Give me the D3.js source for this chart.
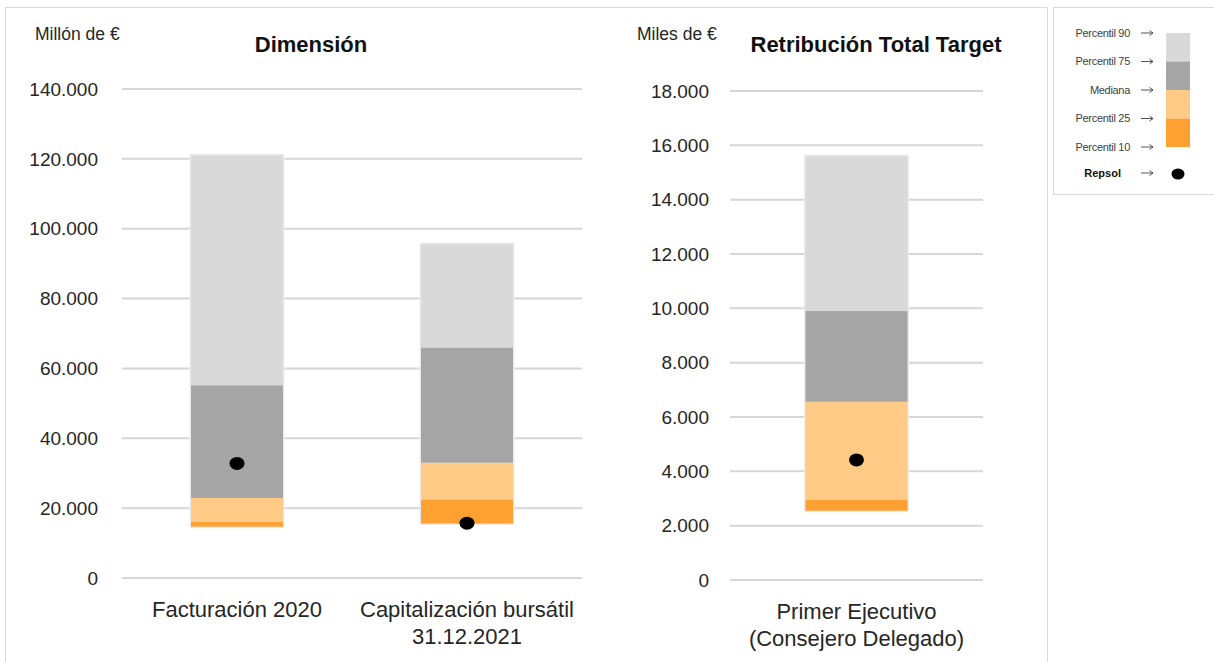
<!DOCTYPE html>
<html>
<head>
<meta charset="utf-8">
<script src="https://cdn.jsdelivr.net/npm/d3@7"></script>
<style>
  body { margin: 0; background: #fff; }
  svg { font-family: "Liberation Sans", Arial, sans-serif; }
</style>
</head>
<body>
<svg id="chart" width="1214" height="662"></svg>
<script>
// Datos: Dimensión (millón de €)
const dimCategorias = [["Facturación 2020"], ["Capitalización bursátil", "31.12.2021"]];
const dimP10 = [14700, 15600];
const dimP25 = [16100, 22500];
const dimMediana = [22900, 33000];
const dimP75 = [55200, 66000];
const dimP90 = [121000, 95600];
const dimRepsol = [32800, 15700];
const dimTicks = [0, 20000, 40000, 60000, 80000, 100000, 120000, 140000];

// Datos: Retribución Total Target (miles de €)
const rttCategorias = [["Primer Ejecutivo", "(Consejero Delegado)"]];
const rttP10 = [2550];
const rttP25 = [2950];
const rttMediana = [6560];
const rttP75 = [9900];
const rttP90 = [15600];
const rttRepsol = [4420];
const rttTicks = [0, 2000, 4000, 6000, 8000, 10000, 12000, 14000, 16000, 18000];

const legendLabels = ["Percentil 90", "Percentil 75", "Mediana", "Percentil 25", "Percentil 10"];

const COLORS = {
    p25: "#ffa033",     // P10 -> P25
    med: "#ffc986",     // P25 -> Mediana
    p75: "#a5a5a5",     // Mediana -> P75
    p90: "#d9d9d9"      // P75 -> P90
};

const locale = d3.formatLocale({ decimal: ",", thousands: ".", grouping: [3], currency: ["", "€"] });
const fmt = locale.format(",");

const svg = d3.select("#chart");

// marcos
svg.append("path")
    .attr("d", "M5.5,662 V7.5 H1047.5 V662")
    .attr("fill", "none").attr("stroke", "#d9d9d9").attr("stroke-width", 1);
svg.append("rect")
    .attr("x", 1053.5).attr("y", 7.5).attr("width", 170).attr("height", 187)
    .attr("fill", "none").attr("stroke", "#d9d9d9").attr("stroke-width", 1);

function crearPanel(cfg) {
    const g = svg.append("g");
    const y = d3.scaleLinear().domain(cfg.domain).range([cfg.y0, cfg.y1]);
    const x = d3.scaleBand()
        .domain(cfg.categorias.map((d, i) => i))
        .range([cfg.x0, cfg.x1])
        .paddingInner(cfg.padIn)
        .paddingOuter(cfg.padOut);

    // grid
    g.append("g").selectAll("line")
        .data(cfg.ticks)
        .join("line")
        .attr("x1", cfg.x0).attr("x2", cfg.x1)
        .attr("y1", d => y(d)).attr("y2", d => y(d))
        .attr("stroke", "#d6d6d6").attr("stroke-width", 2);

    // eje y
    g.append("g").selectAll("text")
        .data(cfg.ticks)
        .join("text")
        .attr("x", cfg.labelX)
        .attr("y", d => y(d))
        .attr("dy", "0.35em")
        .attr("text-anchor", "end")
        .attr("font-size", 19)
        .attr("fill", "#262626")
        .text(d => fmt(d));

    // barras apiladas
    const segs = [];
    cfg.categorias.forEach((c, i) => {
        segs.push({ i, lo: cfg.p10[i], hi: cfg.p25[i], c: COLORS.p25 });
        segs.push({ i, lo: cfg.p25[i], hi: cfg.med[i], c: COLORS.med });
        segs.push({ i, lo: cfg.med[i], hi: cfg.p75[i], c: COLORS.p75 });
        segs.push({ i, lo: cfg.p75[i], hi: cfg.p90[i], c: COLORS.p90 });
    });
    g.append("g").selectAll("rect.outline")
        .data(cfg.categorias.map((c, i) => i))
        .join("rect")
        .attr("x", i => x(i) - 1.5)
        .attr("y", i => y(cfg.p90[i]) - 1.5)
        .attr("width", x.bandwidth() + 3)
        .attr("height", i => y(cfg.p10[i]) - y(cfg.p90[i]) + 3)
        .attr("fill", "#ebebeb");
    g.append("g").selectAll("rect.seg")
        .data(segs)
        .join("rect")
        .attr("x", d => x(d.i))
        .attr("y", d => y(d.hi))
        .attr("width", x.bandwidth())
        .attr("height", d => y(d.lo) - y(d.hi))
        .attr("fill", d => d.c);

    // Repsol
    g.append("g").selectAll("ellipse")
        .data(cfg.repsol)
        .join("ellipse")
        .attr("cx", (d, i) => x(i) + x.bandwidth() / 2)
        .attr("cy", d => y(d))
        .attr("rx", 7.5).attr("ry", 6.5)
        .attr("fill", "#000");

    // categorías
    g.append("g").selectAll("text")
        .data(cfg.categorias)
        .join("text")
        .attr("x", (d, i) => x(i) + x.bandwidth() / 2)
        .attr("y", cfg.catY)
        .attr("text-anchor", "middle")
        .attr("font-size", 22)
        .attr("fill", "#262626")
        .each(function (lines) {
            d3.select(this).selectAll("tspan")
                .data(lines)
                .join("tspan")
                .attr("x", d3.select(this).attr("x"))
                .attr("dy", (l, k) => k === 0 ? 0 : 27)
                .text(l => l);
        });

    // títulos
    g.append("text")
        .attr("x", cfg.unitX).attr("y", 40)
        .attr("font-size", 17.5)
        .attr("fill", "#262626")
        .text(cfg.unidad);
    g.append("text")
        .attr("x", cfg.titleX).attr("y", 52)
        .attr("text-anchor", "middle")
        .attr("font-size", 22)
        .attr("font-weight", "bold")
        .attr("fill", "#111")
        .text(cfg.titulo);
}

crearPanel({
    categorias: dimCategorias, p10: dimP10, p25: dimP25, med: dimMediana, p75: dimP75, p90: dimP90,
    repsol: dimRepsol, ticks: dimTicks, domain: [0, 140000],
    y0: 578, y1: 89, x0: 122, x1: 582, padIn: 0.6, padOut: 0.3,
    labelX: 98, catY: 617, unitX: 35, unidad: "Millón de €", titleX: 311, titulo: "Dimensión"
});

crearPanel({
    categorias: rttCategorias, p10: rttP10, p25: rttP25, med: rttMediana, p75: rttP75, p90: rttP90,
    repsol: rttRepsol, ticks: rttTicks, domain: [0, 18000],
    y0: 580, y1: 91, x0: 730, x1: 983, padIn: 0.425, padOut: 0.425,
    labelX: 709, catY: 619, unitX: 637, unidad: "Miles de €", titleX: 876, titulo: "Retribución Total Target"
});

// Leyenda
const legY = d3.scalePoint().domain(legendLabels).range([33, 147]);
const lg = svg.append("g");
lg.selectAll("text.lbl")
    .data(legendLabels)
    .join("text")
    .attr("x", 1130)
    .attr("y", d => legY(d))
    .attr("dy", "0.35em")
    .attr("text-anchor", "end")
    .attr("font-size", 11)
    .attr("letter-spacing", -0.3)
    .attr("fill", "#404040")
    .text(d => d);
const legColors = [COLORS.p90, COLORS.p75, COLORS.med, COLORS.p25];
lg.selectAll("rect")
    .data(legColors)
    .join("rect")
    .attr("x", 1166)
    .attr("y", (d, i) => legY(legendLabels[i]))
    .attr("width", 24)
    .attr("height", (d, i) => legY(legendLabels[i + 1]) - legY(legendLabels[i]))
    .attr("fill", d => d);
lg.append("text")
    .attr("x", 1121).attr("y", 173).attr("dy", "0.35em")
    .attr("text-anchor", "end")
    .attr("font-size", 11).attr("font-weight", "bold")
    .attr("fill", "#111")
    .text("Repsol");
// flechas
lg.selectAll("path.arr")
    .data(legendLabels.map(d => legY(d)).concat([173]))
    .join("path")
    .attr("d", d => `M1141,${d} H1153 M1149.5,${d - 2.5} L1153,${d} L1149.5,${d + 2.5}`)
    .attr("fill", "none")
    .attr("stroke", "#404040")
    .attr("stroke-width", 0.9);
lg.append("ellipse")
    .attr("cx", 1178).attr("cy", 174).attr("rx", 6.5).attr("ry", 5.5)
    .attr("fill", "#000");
</script>
</body>
</html>
